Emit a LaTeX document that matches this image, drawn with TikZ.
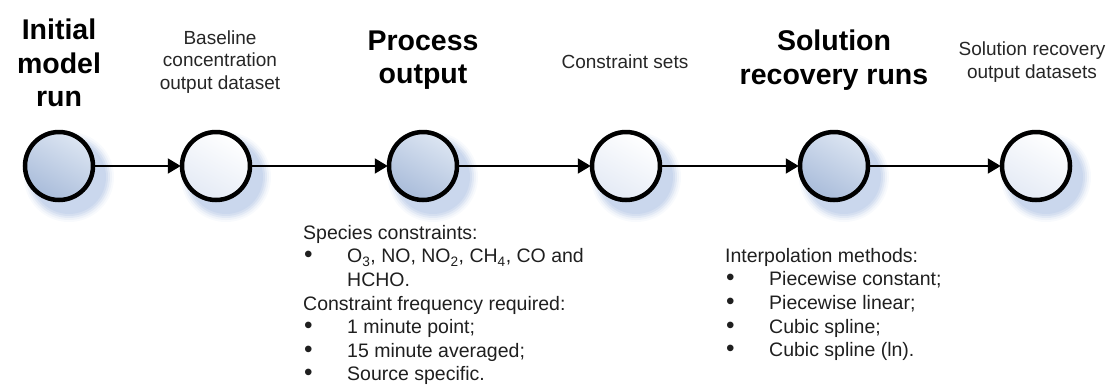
\documentclass[tikz,border=0pt]{standalone}
\usepackage{fontspec}
\setmainfont{Liberation Sans}
\usetikzlibrary{arrows.meta,shadings}
\definecolor{stageA}{HTML}{DCE5F2}
\definecolor{stageB}{HTML}{A9BCDA}
\definecolor{dataA}{HTML}{FFFFFF}
\definecolor{dataB}{HTML}{E4EAF5}
\definecolor{haze}{HTML}{C5D3EB}
\tikzset{
  stagenode/.style={circle, minimum size=68pt, inner sep=0pt, line width=4.5pt, draw=black,
    shading=axis, top color=stageA, bottom color=stageB, shading angle=-30},
  datanode/.style={circle, minimum size=68pt, inner sep=0pt, line width=4.5pt, draw=black,
    shading=axis, top color=dataA, bottom color=dataB, shading angle=-30},
  flow/.style={line width=2pt, -{Triangle[length=13pt,width=15pt]}, shorten >=-1pt},
  bigtitle/.style={align=center, font=\fontsize{28.5}{33.5}\selectfont\bfseries},
  smalltitle/.style={align=center, font=\fontsize{19}{22.5}\selectfont, text=black!85},
  notes/.style={anchor=north west, inner sep=0pt, font=\fontsize{19.5}{23.6}\selectfont, text=black!88}
}
\newcommand{\blurshadow}[2]{%
  \foreach \r/\o in {45/0.12,43/0.18,41/0.3,39/0.45,37/0.65}{%
    \fill[haze, opacity=\o] (#1+10,#2+11) circle (\r pt);}%
}
\newcommand{\bitem}[1]{\makebox[44pt][l]{\hspace{1pt}\scalebox{1.25}{\textbullet}}#1}
\begin{document}
\begin{tikzpicture}[x=1pt,y=-1pt]
\useasboundingbox (0,0) rectangle (1119,384);
% soft drop shadows under every circle
\foreach \cx in {59,216,423,626,834,1036}{\blurshadow{\cx}{166}}
% circles
\node[stagenode] (s1) at (59,166) {};
\node[datanode]  (d1) at (216,166) {};
\node[stagenode] (s2) at (423,166) {};
\node[datanode]  (d2) at (626,166) {};
\node[stagenode] (s3) at (834,166) {};
\node[datanode]  (d3) at (1036,166) {};
% connectors
\draw[flow] (s1) -- (d1);
\draw[flow] (d1) -- (s2);
\draw[flow] (s2) -- (d2);
\draw[flow] (d2) -- (s3);
\draw[flow] (s3) -- (d3);
% headings
\node[bigtitle] (t1) at (59,63) {Initial\\model\\run};
\node[smalltitle] (t2) at (220,62) {Baseline\\concentration\\output dataset};
\node[bigtitle] (t3) at (423,60) {Process\\output};
\node[smalltitle] (t4) at (625,62) {Constraint sets};
\node[bigtitle] (t5) at (834,60) {Solution\\recovery runs};
\node[smalltitle] (t6) at (1032,62) {Solution recovery\\output datasets};
% notes under the stages
\node[notes, align=left] (n1) at (303,225) {Species constraints:\\
\bitem{O\textsubscript{3}, NO, NO\textsubscript{2}, CH\textsubscript{4}, CO and}\\
\hspace*{44pt}HCHO.\\
Constraint frequency required:\\
\bitem{1 minute point;}\\
\bitem{15 minute averaged;}\\
\bitem{Source specific.}};
\node[notes, align=left] (n2) at (725,248) {Interpolation methods:\\
\bitem{Piecewise constant;}\\
\bitem{Piecewise linear;}\\
\bitem{Cubic spline;}\\
\bitem{Cubic spline (ln).}};
\end{tikzpicture}
\end{document}
